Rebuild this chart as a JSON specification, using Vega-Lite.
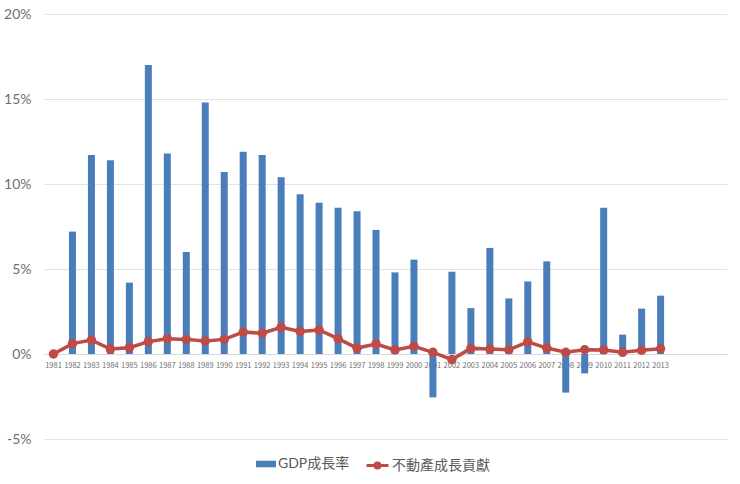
{
  "$schema": "https://vega.github.io/schema/vega-lite/v6.json",
  "width": 683,
  "height": 425,
  "autosize": {"type": "none"},
  "padding": {"left": 44, "top": 14, "right": 13, "bottom": 45},
  "background": "white",
  "config": {
    "view": {"stroke": null},
    "font": "Lato, Noto Sans CJK TC"
  },
  "data": {
    "values": [
      {"year": 1981, "gdp": null, "re": 0.0},
      {"year": 1982, "gdp": 7.2, "re": 0.61},
      {"year": 1983, "gdp": 11.7, "re": 0.82},
      {"year": 1984, "gdp": 11.4, "re": 0.29},
      {"year": 1985, "gdp": 4.2, "re": 0.37},
      {"year": 1986, "gdp": 17.0, "re": 0.73},
      {"year": 1987, "gdp": 11.8, "re": 0.9},
      {"year": 1988, "gdp": 6.0, "re": 0.86},
      {"year": 1989, "gdp": 14.8, "re": 0.76},
      {"year": 1990, "gdp": 10.7, "re": 0.86},
      {"year": 1991, "gdp": 11.9, "re": 1.29},
      {"year": 1992, "gdp": 11.7, "re": 1.22},
      {"year": 1993, "gdp": 10.4, "re": 1.57},
      {"year": 1994, "gdp": 9.4, "re": 1.33},
      {"year": 1995, "gdp": 8.9, "re": 1.41},
      {"year": 1996, "gdp": 8.6, "re": 0.9},
      {"year": 1997, "gdp": 8.4, "re": 0.35},
      {"year": 1998, "gdp": 7.3, "re": 0.59},
      {"year": 1999, "gdp": 4.8, "re": 0.24},
      {"year": 2000, "gdp": 5.55, "re": 0.45},
      {"year": 2001, "gdp": -2.55, "re": 0.1},
      {"year": 2002, "gdp": 4.84, "re": -0.33},
      {"year": 2003, "gdp": 2.7, "re": 0.33},
      {"year": 2004, "gdp": 6.24, "re": 0.29},
      {"year": 2005, "gdp": 3.27, "re": 0.25},
      {"year": 2006, "gdp": 4.27, "re": 0.71},
      {"year": 2007, "gdp": 5.45, "re": 0.35},
      {"year": 2008, "gdp": -2.27, "re": 0.1},
      {"year": 2009, "gdp": -1.14, "re": 0.25},
      {"year": 2010, "gdp": 8.6, "re": 0.24},
      {"year": 2011, "gdp": 1.14, "re": 0.1},
      {"year": 2012, "gdp": 2.67, "re": 0.22},
      {"year": 2013, "gdp": 3.43, "re": 0.31}
    ]
  },
  "encoding": {
    "x": {
      "field": "year",
      "type": "ordinal",
      "scale": {
        "domain": [1981, 1982, 1983, 1984, 1985, 1986, 1987, 1988, 1989, 1990, 1991, 1992, 1993, 1994, 1995, 1996, 1997, 1998, 1999, 2000, 2001, 2002, 2003, 2004, 2005, 2006, 2007, 2008, 2009, 2010, 2011, 2012, 2013, 2014, 2015, 2016],
        "paddingInner": 0,
        "paddingOuter": 0
      },
      "axis": {
        "title": null,
        "offset": -85,
        "labelAngle": 0,
        "labelExpr": "datum.value > 2013 ? '' : datum.value",
        "labelFont": "Noto Sans CJK TC",
        "labelFontSize": 7.5,
        "labelColor": "#707070",
        "labelPadding": 7,
        "ticks": false,
        "domainColor": "#d9d9d9",
        "labelOverlap": false
      }
    }
  },
  "layer": [
    {
      "mark": {"type": "bar", "width": 7},
      "encoding": {
        "y": {
          "field": "gdp",
          "type": "quantitative",
          "scale": {"domain": [-5, 20], "nice": false},
          "axis": {
            "title": null,
            "values": [-5, 0, 5, 10, 15, 20],
            "labelExpr": "datum.value + '%'",
            "labelFont": "Lato",
            "labelFontSize": 14,
            "labelColor": "#6f6f6f",
            "labelPadding": 13,
            "ticks": false,
            "domain": false,
            "gridColor": "#e2e2e2"
          }
        },
        "fill": {
          "datum": "GDP成長率",
          "scale": {"range": ["#4a7ebb"]},
          "legend": {
            "title": null,
            "orient": "none",
            "legendX": 212,
            "legendY": 440,
            "labelFont": "Lato, Noto Sans CJK TC",
            "labelFontSize": 14,
            "labelColor": "#595959",
            "labelOffset": 2,
            "symbolType": "M-1,-0.33H1V0.33H-1Z",
            "symbolSize": 400,
            "symbolStrokeWidth": 0
          }
        }
      }
    },
    {
      "mark": {"type": "line", "strokeWidth": 3.5},
      "encoding": {
        "y": {"field": "re", "type": "quantitative"},
        "stroke": {
          "datum": "不動產成長貢獻",
          "scale": {"range": ["#be4b48"]},
          "legend": {
            "title": null,
            "orient": "none",
            "legendX": 321,
            "legendY": 439,
            "labelFont": "Lato, Noto Sans CJK TC",
            "labelFontSize": 14,
            "labelColor": "#595959",
            "labelOffset": 2,
            "symbolType": "M-1,0H1M-0.23,0A0.23,0.23 0 1,0 0.23,0A0.23,0.23 0 1,0 -0.23,0Z",
            "symbolSize": 484,
            "symbolStrokeWidth": 3,
            "symbolFillColor": "#be4b48"
          }
        }
      }
    },
    {
      "mark": {"type": "circle", "size": 90, "color": "#be4b48", "opacity": 1},
      "encoding": {
        "y": {"field": "re", "type": "quantitative"}
      }
    }
  ]
}
